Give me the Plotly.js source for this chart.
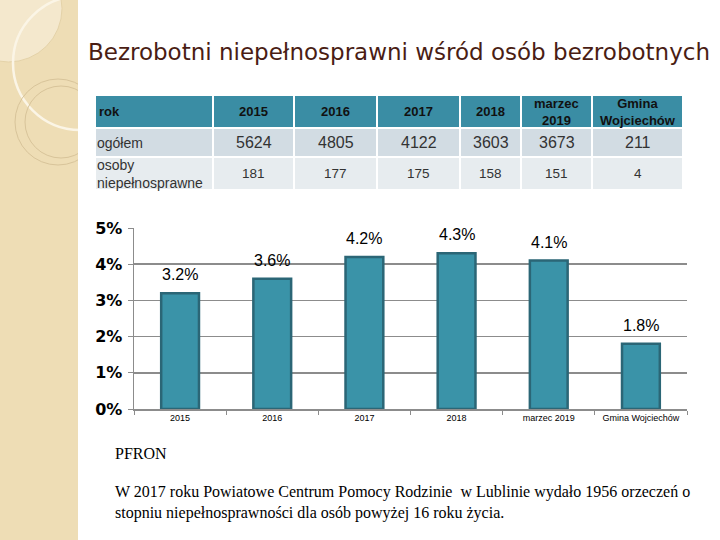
<!DOCTYPE html>
<html>
<head>
<meta charset="utf-8">
<script src="https://cdn.plot.ly/plotly-3.0.1.min.js"></script>
<style>
html,body{margin:0;padding:0;background:#fff}
#chart{width:720px;height:540px}
</style>
</head>
<body>
<div id="chart"></div>
<script>
// ---- data ----
var titleText = 'Bezrobotni niepełnosprawni wśród osób bezrobotnych';
var tableHeader = ['rok', '2015', '2016', '2017', '2018', 'marzec<br>2019', 'Gmina<br>Wojciechów'];
var rowLabels = ['ogółem', 'osoby<br>niepełnosprawne'];
var totalUnemployed = [5624, 4805, 4122, 3603, 3673, 211];
var disabledUnemployed = [181, 177, 175, 158, 151, 4];
var categories = ['2015', '2016', '2017', '2018', 'marzec 2019', 'Gmina Wojciechów'];
var shares = [3.2, 3.6, 4.2, 4.3, 4.1, 1.8];
var noteTitle = 'PFRON';
var noteLines = ['W 2017 roku Powiatowe Centrum Pomocy Rodzinie  w Lublinie wydało 1956 orzeczeń o',
                 'stopniu niepełnosprawności dla osób powyżej 16 roku życia.'];

// ---- layout constants ----
var W = 720, H = 540;
function px(x){ return x / W; }
function py(y){ return 1 - y / H; }
var colWidths = [118, 81, 83, 83, 61, 71, 91];
var rowHeights = [33, 29, 33];

// table grid built through a heatmap on its own axes
var colEdges = [0];
for (var c = 0; c < colWidths.length; c++) colEdges.push(colEdges[c] + colWidths[c]);
var rowEdges = [0];
for (var r = 0; r < rowHeights.length; r++) rowEdges.push(rowEdges[r] + rowHeights[r]);
var zGrid = [];
for (var r = 0; r < rowHeights.length; r++) {
  var row = [];
  for (var c = 0; c < colWidths.length; c++) row.push(r);
  zGrid.push(row);
}
function colCenter(c){ return (colEdges[c] + colEdges[c + 1]) / 2; }
function rowCenter(r){ return (rowEdges[r] + rowEdges[r + 1]) / 2; }

var tableGrid = {
  type: 'heatmap',
  x: colEdges, y: rowEdges, z: zGrid,
  zmin: 0, zmax: 2,
  colorscale: [[0, '#3A8DA4'], [0.5, '#D2DCE3'], [1, '#E7ECEF']],
  showscale: false, xgap: 2, ygap: 2, hoverinfo: 'skip',
  xaxis: 'x2', yaxis: 'y2'
};

var barTrace = {
  type: 'bar',
  x: categories,
  y: shares,
  width: 0.41,
  marker: {color: '#3A93A8', line: {color: '#2B6676', width: 2.5}},
  hoverinfo: 'skip',
  xaxis: 'x', yaxis: 'y'
};

var sans = 'Liberation Sans, Arial';
var annotations = [];
// table texts
for (var c = 0; c < tableHeader.length; c++) {
  annotations.push({
    xref: 'x2', yref: 'y2',
    x: c === 0 ? colEdges[0] + 2 : colCenter(c), y: rowCenter(0),
    xanchor: c === 0 ? 'left' : 'center', yanchor: 'middle',
    text: '<b>' + tableHeader[c] + '</b>', showarrow: false,
    font: {family: sans, size: 13, color: '#111111'}
  });
}
for (var r = 0; r < rowLabels.length; r++) {
  annotations.push({
    xref: 'x2', yref: 'y2', x: colEdges[0], y: rowCenter(r + 1),
    xanchor: 'left', yanchor: 'middle', align: 'left',
    text: rowLabels[r], showarrow: false,
    font: {family: sans, size: 14, color: '#333333'}
  });
}
for (var c = 0; c < totalUnemployed.length; c++) {
  annotations.push({
    xref: 'x2', yref: 'y2', x: colCenter(c + 1), y: rowCenter(1),
    xanchor: 'center', yanchor: 'middle',
    text: String(totalUnemployed[c]), showarrow: false,
    font: {family: sans, size: 16, color: '#333333'}
  });
  annotations.push({
    xref: 'x2', yref: 'y2', x: colCenter(c + 1), y: rowCenter(2),
    xanchor: 'center', yanchor: 'middle',
    text: String(disabledUnemployed[c]), showarrow: false,
    font: {family: sans, size: 13.5, color: '#333333'}
  });
}
// bar labels
for (var i = 0; i < categories.length; i++) {
  annotations.push({
    xref: 'x', yref: 'y', x: i, y: shares[i],
    text: shares[i].toFixed(1) + '%', showarrow: false,
    yanchor: 'bottom', yshift: 8,
    font: {family: sans, size: 16, color: '#000000'}
  });
}
annotations.push({
  xref: 'paper', yref: 'paper', x: px(86), y: py(52), xanchor: 'left', yanchor: 'middle',
  text: titleText, showarrow: false,
  font: {family: 'DejaVu Sans', size: 23, color: '#4A1D14'}
});
annotations.push({
  xref: 'paper', yref: 'paper', x: px(113), y: py(453), xanchor: 'left', yanchor: 'middle',
  text: noteTitle, showarrow: false,
  font: {family: 'Liberation Serif, Times New Roman', size: 16, color: '#000000'}
});
annotations.push({
  xref: 'paper', yref: 'paper', x: px(113), y: py(502), xanchor: 'left', yanchor: 'middle',
  text: noteLines.join('<br>'), showarrow: false, align: 'left',
  font: {family: 'Liberation Serif, Times New Roman', size: 16, color: '#000000'}
});

var shapes = [
  {type: 'rect', xref: 'paper', yref: 'paper', x0: 0, x1: px(78), y0: 0, y1: 1, layer: 'below',
   fillcolor: '#EEDDB5', line: {width: 0}},
  {type: 'circle', xref: 'paper', yref: 'paper', x0: px(-45), x1: px(62), y0: py(62), y1: py(-45), layer: 'below',
   fillcolor: '#F4E8CD', line: {color: '#E4D2A8', width: 1}},
  {type: 'circle', xref: 'paper', yref: 'paper', x0: px(13), x1: px(147), y0: py(130), y1: py(-4), layer: 'below',
   fillcolor: 'rgba(0,0,0,0)', line: {color: '#FBF5E6', width: 2.5}},
  {type: 'circle', xref: 'paper', yref: 'paper', x0: px(15), x1: px(101), y0: py(165), y1: py(79), layer: 'below',
   fillcolor: 'rgba(0,0,0,0)', line: {color: '#D8C49A', width: 1}},
  {type: 'circle', xref: 'paper', yref: 'paper', x0: px(25), x1: px(97), y0: py(158), y1: py(86), layer: 'below',
   fillcolor: 'rgba(0,0,0,0)', line: {color: '#D8C49A', width: 1}},
  {type: 'rect', xref: 'paper', yref: 'paper', x0: px(78), x1: 1, y0: 0, y1: 1, layer: 'below',
   fillcolor: '#ffffff', line: {width: 0}}
];

var layout = {
  width: W, height: H,
  margin: {l: 0, r: 0, t: 0, b: 0},
  paper_bgcolor: '#ffffff',
  plot_bgcolor: 'rgba(0,0,0,0)',
  showlegend: false,
  xaxis: {
    domain: [px(134), px(687)],
    type: 'category',
    range: [-0.5, categories.length - 0.5],
    showline: true, linecolor: '#8C8C8C', linewidth: 1.5,
    ticks: 'outside', tickson: 'boundaries', ticklen: 4, tickcolor: '#8C8C8C',
    tickangle: 0,
    tickfont: {family: sans, size: 9, color: '#000000'},
    showgrid: false, zeroline: false, fixedrange: true
  },
  yaxis: {
    domain: [py(409), py(228)],
    range: [0, 5],
    dtick: 1, ticksuffix: '%',
    showline: true, linecolor: '#8C8C8C', linewidth: 1.5,
    ticks: 'outside', ticklen: 5, tickcolor: '#8C8C8C',
    ticklabelstandoff: 2,
    showgrid: true, gridcolor: '#8C8C8C', gridwidth: 1.5,
    zeroline: false,
    tickfont: {family: 'DejaVu Sans', size: 16, color: '#000000', weight: 'bold'},
    fixedrange: true
  },
  xaxis2: {
    domain: [px(95), px(95 + colEdges[colEdges.length - 1])],
    range: [0, colEdges[colEdges.length - 1]],
    anchor: 'y2', visible: false, fixedrange: true
  },
  yaxis2: {
    domain: [py(95 + rowEdges[rowEdges.length - 1]), py(95)],
    range: [rowEdges[rowEdges.length - 1], 0],
    anchor: 'x2', visible: false, fixedrange: true
  },
  annotations: annotations,
  shapes: shapes
};

Plotly.newPlot('chart', [barTrace, tableGrid], layout, {displayModeBar: false, staticPlot: true});
</script>
</body>
</html>
